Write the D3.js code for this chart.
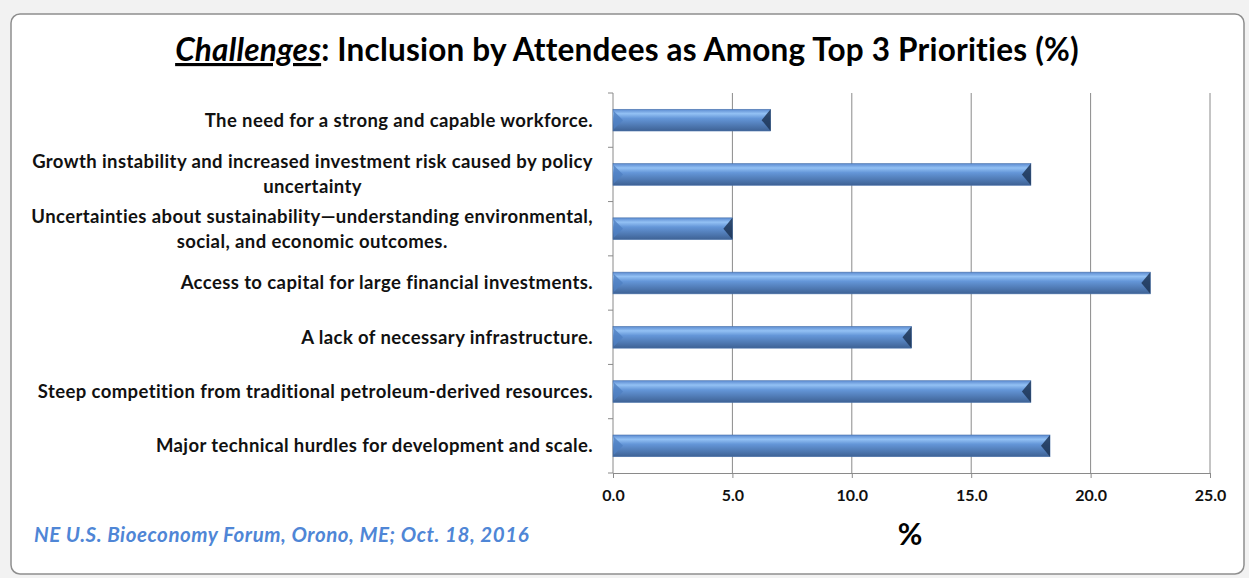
<!doctype html>
<html>
  <head>
    <meta charset="utf-8">
    <script src="https://d3js.org/d3.v7.min.js"></script>
    <style>
      body { margin: 0; background: #f2f2f2; }
      text { font-family: Lato, 'Open Sans', sans-serif; }
    </style>
  </head>
  <body>
    <svg id="chart" width="1249" height="578"></svg>
    <script>
      var categories = [
        ['The need for a strong and capable workforce.'],
        ['Growth instability and increased investment risk caused by policy', 'uncertainty'],
        ['Uncertainties about sustainability\u2014understanding environmental,', 'social, and economic outcomes.'],
        ['Access to capital for large financial investments.'],
        ['A lack of necessary infrastructure.'],
        ['Steep competition from traditional petroleum-derived resources.'],
        ['Major technical hurdles for development and scale.']
      ]
      var values = [6.6, 17.5, 5.0, 22.5, 12.5, 17.5, 18.3]
      var ticks = [0, 5, 10, 15, 20, 25]

      var svg = d3.select('#chart')
      var plotLeft = 613, plotRight = 1210, plotTop = 93, plotBottom = 473

      // chart frame
      svg.append('rect')
        .attr('x', 11).attr('y', 14).attr('width', 1233).attr('height', 560)
        .attr('rx', 9).attr('fill', '#fff').attr('stroke', '#8e8e8e').attr('stroke-width', 1.5)

      var defs = svg.append('defs')
      var g1 = defs.append('linearGradient').attr('id', 'barGrad')
        .attr('x1', 0).attr('y1', 0).attr('x2', 0).attr('y2', 1)
      g1.append('stop').attr('offset', '0%').attr('stop-color', '#5b8ad0')
      g1.append('stop').attr('offset', '20%').attr('stop-color', '#93c1f4')
      g1.append('stop').attr('offset', '42%').attr('stop-color', '#6496d8')
      g1.append('stop').attr('offset', '100%').attr('stop-color', '#3e6295')

      var x = d3.scaleLinear().domain([0, 25]).range([plotLeft, plotRight])
      var y = d3.scaleBand().domain(d3.range(categories.length)).range([plotTop, plotBottom])
        .paddingInner(0.6).paddingOuter(0.3)

      // gridlines
      svg.append('g').selectAll('line').data(ticks.slice(1)).join('line')
        .attr('x1', d => x(d)).attr('x2', d => x(d))
        .attr('y1', plotTop).attr('y2', plotBottom)
        .attr('stroke', '#8a8a8a').attr('stroke-width', 1)

      // axes
      var xAxis = svg.append('g').attr('transform', 'translate(0,' + plotBottom + ')')
        .call(d3.axisBottom(x).tickValues(ticks).tickFormat(d3.format('.1f')).tickSize(5))
      xAxis.select('.domain').attr('stroke', '#8a8a8a')
      xAxis.selectAll('.tick line').attr('stroke', '#8a8a8a')
      xAxis.selectAll('.tick text')
        .attr('y', 17).attr('font-size', 16).attr('font-weight', 'bold').attr('fill', '#111')
        .style('font-family', 'Lato, sans-serif')

      svg.append('line').attr('x1', plotLeft).attr('x2', plotLeft).attr('y1', plotTop).attr('y2', plotBottom)
        .attr('stroke', '#8a8a8a')
      var rowH = (plotBottom - plotTop) / categories.length
      svg.append('g').selectAll('line').data(d3.range(categories.length + 1)).join('line')
        .attr('x1', plotLeft - 5).attr('x2', plotLeft)
        .attr('y1', i => plotTop + i * rowH)
        .attr('y2', i => plotTop + i * rowH)
        .attr('stroke', '#8a8a8a')

      // bars
      var bars = svg.append('g').selectAll('g').data(values).join('g')
      bars.append('rect')
        .attr('x', x(0)).attr('y', (d, i) => y(i))
        .attr('width', d => x(d) - x(0)).attr('height', y.bandwidth())
        .attr('fill', 'url(#barGrad)').attr('stroke', '#4a72aa').attr('stroke-width', 0.6)
      var cap = 9
      bars.append('path')
        .attr('d', (d, i) => {
          var x1 = x(d), y0 = y(i), h = y.bandwidth()
          return 'M' + x1 + ',' + y0 + 'L' + (x1 - cap) + ',' + (y0 + h / 2) + 'L' + x1 + ',' + (y0 + h) + 'Z'
        })
        .attr('fill', '#1d3556').attr('opacity', 0.85)
      bars.append('path')
        .attr('d', (d, i) => {
          var x0 = x(0) + 1, y0 = y(i), h = y.bandwidth()
          return 'M' + x0 + ',' + (y0 + 2) + 'L' + (x0 + cap) + ',' + (y0 + h / 2) + 'L' + x0 + ',' + (y0 + h - 2) + 'Z'
        })
        .attr('fill', '#4f7fc2').attr('opacity', 0.8)

      // category labels
      var labelRight = 593
      categories.forEach(function (lines, i) {
        var cy = y(i) + y.bandwidth() / 2
        var lh = 25
        var g = svg.append('g')
        var ts = lines.map(function (l, j) {
          return g.append('text')
            .attr('y', cy + (j - (lines.length - 1) / 2) * lh)
            .attr('dy', '0.35em')
            .attr('font-size', 18.5).attr('font-weight', 'bold').attr('fill', '#111')
            .attr('letter-spacing', 0.4)
            .text(l)
        })
        var maxW = d3.max(ts, t => t.node().getComputedTextLength())
        ts.forEach(function (t) {
          t.attr('text-anchor', 'middle').attr('x', labelRight - maxW / 2)
        })
      })

      // title
      var title = svg.append('text').attr('x', 627).attr('y', 61)
        .attr('text-anchor', 'middle').attr('font-size', 31.5).attr('font-weight', 'bold').attr('fill', '#000')
        .attr('letter-spacing', 0.2)
      title.append('tspan').attr('font-style', 'italic').attr('text-decoration', 'underline').text('Challenges')
      title.append('tspan').text(': Inclusion by Attendees as Among Top 3 Priorities (%)')

      // axis title
      svg.append('text').attr('x', 910).attr('y', 545).attr('text-anchor', 'middle')
        .attr('font-size', 30).attr('font-weight', 'bold').attr('fill', '#000').text('%')

      // footer note
      svg.append('text').attr('x', 34).attr('y', 542)
        .attr('font-size', 20.5).attr('font-weight', 'bold').attr('font-style', 'italic').attr('fill', '#4f86d6')
        .attr('letter-spacing', 0.55)
        .text('NE U.S. Bioeconomy Forum,  Orono, ME; Oct. 18, 2016')
    </script>
  </body>
</html>
